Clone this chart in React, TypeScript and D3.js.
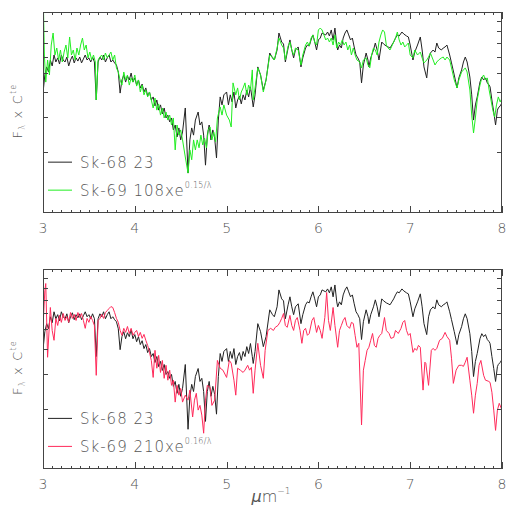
import React from "react";
import * as d3 from "d3";

// ---- data ----
const blackWave = [3.00,3.02,3.04,3.06,3.08,3.10,3.12,3.14,3.16,3.18,3.20,3.22,3.24,3.26,3.28,3.30,3.32,3.34,3.36,3.38,3.40,3.42,3.44,3.46,3.48,3.50,3.52,3.54,3.56,3.58,3.60,3.62,3.64,3.66,3.68,3.70,3.72,3.74,3.76,3.78,3.80,3.82,3.84,3.86,3.88,3.90,3.92,3.94,3.96,3.98,4.00,4.02,4.04,4.06,4.08,4.10,4.12,4.14,4.16,4.18,4.20,4.22,4.24,4.26,4.28,4.30,4.32,4.34,4.36,4.38,4.40,4.42,4.44,4.46,4.48,4.50,4.52,4.55,4.58,4.60,4.62,4.64,4.66,4.69,4.71,4.73,4.75,4.77,4.79,4.81,4.83,4.85,4.87,4.89,4.91,4.93,4.95,4.97,5.00,5.02,5.04,5.06,5.08,5.10,5.12,5.14,5.16,5.18,5.20,5.22,5.24,5.26,5.28,5.29,5.31,5.34,5.37,5.40,5.43,5.47,5.50,5.52,5.55,5.57,5.60,5.62,5.64,5.67,5.69,5.71,5.73,5.75,5.78,5.81,5.83,5.86,5.88,5.90,5.92,5.94,5.96,5.98,6.00,6.02,6.04,6.06,6.08,6.10,6.12,6.14,6.16,6.18,6.20,6.21,6.23,6.25,6.27,6.29,6.31,6.33,6.35,6.37,6.39,6.41,6.43,6.45,6.47,6.49,6.52,6.54,6.55,6.57,6.60,6.62,6.64,6.66,6.68,6.69,6.71,6.74,6.76,6.78,6.80,6.82,6.84,6.86,6.88,6.91,6.93,6.96,6.98,7.00,7.03,7.05,7.08,7.11,7.13,7.15,7.18,7.20,7.22,7.25,7.27,7.29,7.31,7.34,7.36,7.38,7.40,7.43,7.45,7.48,7.51,7.53,7.56,7.58,7.60,7.62,7.65,7.67,7.69,7.71,7.73,7.76,7.78,7.80,7.82,7.84,7.86,7.87,7.89,7.91,7.93,7.95,7.96,7.98,8.00];
const blackFlux = [3.95,4.86,5.33,5.03,5.77,5.39,6.11,5.64,5.91,5.51,6.11,5.77,5.64,5.97,5.39,5.77,6.04,5.58,5.91,5.70,5.97,5.58,5.84,6.11,5.77,5.91,5.64,5.97,5.64,3.65,5.64,5.97,5.77,6.11,5.64,5.91,6.11,5.64,5.77,5.58,5.45,5.03,3.95,4.59,4.86,4.48,4.80,4.59,4.97,4.48,4.70,4.33,4.59,4.19,4.38,4.00,4.19,3.82,4.00,3.65,3.78,3.41,3.65,3.25,3.45,3.11,3.33,2.97,3.07,2.84,2.97,2.59,2.74,2.39,2.65,2.31,2.53,3.33,1.58,2.31,2.65,2.44,2.90,3.18,2.74,2.84,2.44,1.73,2.44,2.74,2.31,2.59,2.36,1.88,2.90,3.78,3.45,3.87,4.00,3.45,3.87,3.57,4.00,3.33,3.65,3.82,3.49,3.87,3.65,4.09,3.78,4.24,3.65,3.37,3.87,5.33,4.86,4.09,4.59,6.25,5.91,5.77,6.47,7.86,7.09,6.93,5.64,6.62,7.26,6.47,5.91,6.47,6.70,5.33,5.91,6.62,6.85,6.77,7.26,7.69,7.09,6.47,7.26,7.42,7.86,7.77,7.69,7.95,7.60,8.14,7.26,8.32,6.85,6.47,6.85,6.62,7.42,7.86,8.14,7.69,7.26,7.42,6.70,6.11,5.91,5.64,4.44,5.45,6.25,5.77,5.33,5.91,6.47,7.01,6.47,5.77,6.62,7.09,6.93,6.77,6.70,6.62,6.85,7.09,7.42,7.69,7.60,7.95,7.77,7.60,7.51,6.85,5.77,6.32,6.85,7.51,6.47,5.33,4.70,5.77,6.25,6.47,6.32,7.01,6.62,6.47,6.62,6.70,6.85,6.11,5.58,4.86,4.19,4.70,5.15,5.64,5.97,5.64,4.75,3.87,2.90,3.45,3.78,4.48,4.75,4.59,4.70,4.44,4.33,4.24,3.65,3.18,2.74,3.25,3.33,3.41,3.53];

const greenWave = [3.00,3.015,3.03,3.05,3.07,3.09,3.11,3.13,3.15,3.17,3.19,3.21,3.23,3.25,3.27,3.29,3.31,3.33,3.35,3.37,3.39,3.41,3.43,3.45,3.47,3.49,3.51,3.53,3.55,3.57,3.58,3.60,3.62,3.64,3.66,3.68,3.70,3.72,3.74,3.76,3.78,3.80,3.82,3.84,3.86,3.88,3.90,3.92,3.94,3.96,3.98,4.00,4.02,4.04,4.06,4.08,4.10,4.12,4.14,4.16,4.18,4.20,4.22,4.24,4.26,4.28,4.30,4.32,4.34,4.36,4.38,4.40,4.42,4.44,4.46,4.48,4.50,4.52,4.55,4.58,4.60,4.62,4.64,4.66,4.68,4.70,4.72,4.74,4.76,4.78,4.80,4.82,4.84,4.86,4.88,4.90,4.93,4.95,4.97,5.00,5.03,5.05,5.07,5.10,5.12,5.14,5.16,5.18,5.20,5.22,5.24,5.26,5.28,5.29,5.31,5.34,5.37,5.40,5.43,5.47,5.50,5.52,5.55,5.57,5.60,5.62,5.64,5.67,5.69,5.71,5.73,5.75,5.78,5.81,5.83,5.86,5.88,5.90,5.92,5.94,5.96,5.98,6.00,6.02,6.04,6.06,6.08,6.10,6.12,6.14,6.16,6.18,6.20,6.22,6.24,6.26,6.28,6.30,6.32,6.34,6.36,6.38,6.40,6.42,6.45,6.47,6.49,6.52,6.54,6.56,6.58,6.60,6.62,6.64,6.66,6.68,6.70,6.72,6.74,6.76,6.78,6.80,6.82,6.84,6.86,6.88,6.90,6.92,6.94,6.96,6.98,7.00,7.03,7.05,7.08,7.11,7.13,7.15,7.18,7.20,7.22,7.25,7.27,7.29,7.31,7.34,7.36,7.38,7.40,7.43,7.45,7.48,7.51,7.53,7.56,7.58,7.60,7.62,7.65,7.67,7.69,7.71,7.73,7.76,7.78,7.80,7.82,7.84,7.86,7.88,7.90,7.92,7.94,7.96,7.98,8.00];
const greenFlux = [14,6.11,4.48,5.77,4.86,6.85,7.86,6.11,6.62,5.77,6.47,5.64,6.32,6.85,5.91,7.51,6.11,6.47,5.77,6.62,6.11,6.85,7.42,6.47,6.85,5.91,6.32,5.77,6.11,5.64,3.65,5.77,5.97,6.11,5.77,6.25,5.91,6.11,6.32,5.77,6.11,5.27,5.03,4.59,4.33,5.03,4.59,4.86,4.33,4.70,4.48,4.86,4.28,4.59,4.00,4.33,3.87,4.09,3.78,4.00,3.65,3.33,3.73,3.25,3.49,3.07,3.33,2.97,3.18,2.90,3.07,2.74,2.97,2.06,2.74,2.44,2.59,2.31,1.90,1.58,2.06,1.84,2.31,2.06,2.31,2.11,2.44,2.18,2.36,2.11,2.59,2.68,2.31,2.53,2.26,2.97,3.37,3.07,3.45,3.07,2.90,2.68,4.44,3.87,4.19,3.65,4.00,4.19,4.44,3.87,4.33,4.09,5.15,3.65,4.19,5.27,4.86,4.00,4.59,6.11,5.97,5.77,6.62,7.42,6.85,6.62,5.77,6.77,7.09,6.47,6.11,6.62,6.47,5.45,6.11,6.85,7.09,6.77,7.42,7.69,7.09,6.85,8.14,8.32,8.14,7.69,7.26,7.42,7.09,7.42,6.85,7.69,6.62,7.09,6.85,7.26,6.85,7.09,6.47,6.85,6.11,6.62,6.11,5.77,5.64,5.27,5.77,5.91,5.45,5.27,6.11,6.62,6.47,6.11,7.09,7.69,8.14,7.95,6.85,6.62,6.47,6.77,7.09,7.42,7.95,7.26,6.85,7.09,6.70,6.85,7.01,6.11,5.91,6.47,6.11,6.32,5.91,5.58,5.77,5.97,6.25,5.77,5.45,5.64,5.77,5.91,5.97,5.77,5.97,5.77,5.27,4.59,4.19,4.59,5.03,5.15,5.27,5.03,4.09,3.07,2.50,2.97,3.65,4.33,4.70,4.86,4.59,4.70,4.09,3.65,3.25,3.00,3.45,3.78,3.57,3.73];

const redWave = [3.00,3.02,3.03,3.05,3.08,3.10,3.12,3.14,3.16,3.18,3.20,3.22,3.24,3.26,3.28,3.30,3.32,3.34,3.36,3.38,3.40,3.42,3.44,3.46,3.48,3.50,3.52,3.54,3.56,3.58,3.60,3.62,3.64,3.66,3.68,3.70,3.72,3.74,3.76,3.78,3.80,3.82,3.84,3.86,3.88,3.90,3.92,3.94,3.96,3.98,4.00,4.02,4.04,4.06,4.08,4.10,4.12,4.14,4.16,4.18,4.20,4.22,4.24,4.26,4.28,4.30,4.32,4.34,4.36,4.38,4.40,4.42,4.44,4.46,4.48,4.50,4.52,4.55,4.58,4.60,4.63,4.65,4.67,4.69,4.71,4.73,4.75,4.77,4.79,4.82,4.84,4.87,4.90,4.93,4.96,5.00,5.03,5.05,5.08,5.10,5.12,5.15,5.18,5.20,5.23,5.25,5.27,5.29,5.31,5.34,5.37,5.40,5.42,5.45,5.48,5.51,5.53,5.56,5.58,5.60,5.62,5.64,5.66,5.69,5.71,5.73,5.75,5.77,5.80,5.82,5.84,5.86,5.88,5.90,5.93,5.95,5.98,6.00,6.02,6.04,6.07,6.09,6.11,6.13,6.16,6.18,6.21,6.23,6.25,6.27,6.29,6.31,6.34,6.36,6.38,6.40,6.42,6.44,6.47,6.49,6.51,6.53,6.55,6.57,6.59,6.61,6.63,6.65,6.67,6.69,6.72,6.74,6.77,6.79,6.82,6.84,6.87,6.90,6.92,6.94,6.96,6.98,7.00,7.03,7.05,7.07,7.09,7.11,7.14,7.16,7.17,7.20,7.23,7.25,7.27,7.29,7.32,7.35,7.38,7.40,7.43,7.45,7.47,7.50,7.53,7.56,7.58,7.60,7.62,7.65,7.67,7.69,7.71,7.73,7.75,7.77,7.80,7.82,7.85,7.87,7.89,7.91,7.93,7.95,7.97,8.00];
const redFlux = [5.11,7.80,8.46,3.62,6.42,4.93,4.40,5.66,5.22,5.86,5.41,5.99,5.53,5.79,5.41,6.06,5.66,5.93,5.53,6.06,5.72,5.99,5.53,5.05,5.66,5.41,5.79,5.53,5.22,2.94,5.53,5.66,5.93,5.66,6.06,6.20,6.35,6.49,6.42,6.06,5.66,5.41,4.93,4.66,5.05,4.82,5.16,4.76,5.05,4.66,4.82,4.93,4.60,4.82,4.50,4.71,4.40,4.15,3.83,3.49,2.87,3.92,3.19,3.70,3.04,3.49,2.84,3.30,2.78,3.12,2.62,2.78,2.16,2.62,2.34,2.53,2.16,2.34,2.21,2.48,1.82,2.21,2.39,1.97,2.08,1.86,1.51,2.21,2.62,2.56,2.08,2.21,3.49,3.19,3.12,2.87,3.49,3.38,2.78,2.34,3.19,3.12,3.04,3.12,3.30,3.12,3.22,2.39,3.12,4.25,3.30,2.84,3.92,4.93,5.05,4.93,5.11,5.22,5.41,5.66,5.99,5.22,5.11,5.86,5.22,4.93,5.53,5.72,4.93,4.25,4.93,5.05,4.66,4.76,5.53,5.72,4.82,5.22,4.93,4.50,5.72,7.63,5.53,4.93,6.42,5.22,4.06,4.93,5.22,5.53,5.72,5.22,5.05,5.41,5.34,4.66,4.06,4.25,1.66,3.12,3.49,3.92,4.06,4.40,4.76,4.15,4.06,4.50,4.66,4.76,5.72,4.93,4.76,4.50,4.55,4.93,4.76,5.05,5.41,5.53,4.93,4.66,4.76,3.83,4.01,3.92,4.15,4.06,2.48,3.42,3.38,2.62,3.92,4.01,3.92,4.01,4.40,4.50,4.82,4.60,4.40,3.58,2.68,3.12,3.30,3.30,3.26,3.42,3.62,2.78,2.34,1.90,2.34,2.68,3.30,3.49,2.94,2.78,2.75,2.71,2.42,1.97,1.56,1.97,2.13,1.97];

const xMajorTicks = [3, 4, 5, 6, 7, 8];
const yTicks = [2, 3, 4, 5, 6, 7, 8, 9];
const topLegend = ["Sk-68 23", "Sk-69 108xe", "0.15/λ"];
const bottomLegend = ["Sk-68 23", "Sk-69 210xe", "0.16/λ"];

const W = 511, H = 511;
const X0 = 43, X1 = 502;
const AXIS = "#444";
const TEXT = "#555";
const FONT = "'DejaVu Sans', 'Liberation Sans', sans-serif";

function zip(w: number[], f: number[]) {
  return w.map((x, i) => [x, f[i]] as [number, number]);
}

function Panel({ top, bottom, other, otherColor, legend, id, showXLabel }: any) {
  const x = d3.scaleLinear().domain([3, 8]).range([X0, X1]);
  const y = d3.scaleLog().domain([1, 10]).range([bottom, top]);
  const line = d3.line<[number, number]>().x((d) => x(d[0])).y((d) => y(d[1]));
  const minor = d3.range(30, 81).map((v) => v / 10);
  const ly1 = y(10) + (bottom - top) * 0.747;
  const ly2 = ly1 + 28;
  return (
    <g>
      <defs>
        <clipPath id={id}>
          <rect x={X0} y={top} width={X1 - X0} height={bottom - top} />
        </clipPath>
      </defs>
      <g clipPath={`url(#${id})`} fill="none" strokeWidth={1}>
        <path d={line(zip(blackWave, blackFlux)) || ""} stroke="#222" />
        <path d={line(other) || ""} stroke={otherColor} />
      </g>
      <rect x={X0 + 0.5} y={top + 0.5} width={X1 - X0 - 1} height={bottom - top - 1} fill="none" stroke={AXIS} />
      {minor.map((v) => {
        const major = Math.abs(v - Math.round(v)) < 1e-6;
        const len = major ? 7 : 3;
        const px = Math.round(x(v)) + 0.5;
        return (
          <g key={v} stroke={AXIS}>
            <line x1={px} x2={px} y1={bottom} y2={bottom - len} />
            <line x1={px} x2={px} y1={top} y2={top + len} />
          </g>
        );
      })}
      {yTicks.map((v) => {
        const py = Math.round(y(v)) + 0.5;
        return (
          <g key={v} stroke={AXIS}>
            <line x1={X0} x2={X0 + 5} y1={py} y2={py} />
            <line x1={X1} x2={X1 - 5} y1={py} y2={py} />
          </g>
        );
      })}
      {xMajorTicks.map((v) => (
        <text key={v} x={x(v)} y={bottom + 20} textAnchor="middle" fontSize={14} fill={TEXT} fontFamily={FONT} fontWeight={300}>
          {v}
        </text>
      ))}
      <text transform={`translate(22,${(top + bottom) / 2 + 26}) rotate(-90)`} fontSize={13} fill={TEXT} fontFamily={FONT} fontWeight={300} letterSpacing={1.2}>
        F<tspan fontSize={8} dy={3}>λ</tspan>
        <tspan dy={-3}>  x  C</tspan>
        <tspan fontSize={8} dy={-6}>te</tspan>
      </text>
      <line x1={48} x2={72} y1={ly1} y2={ly1} stroke="#222" />
      <text x={80} y={ly1 + 6} fontSize={15} fill={TEXT} fontFamily={FONT} fontWeight={300} letterSpacing={1}>
        {legend[0]}
      </text>
      <line x1={48} x2={72} y1={ly2} y2={ly2} stroke={otherColor} />
      <text x={80} y={ly2 + 6} fontSize={15} fill={TEXT} fontFamily={FONT} fontWeight={300} letterSpacing={1}>
        {legend[1]}
        <tspan fontSize={8} dy={-8} letterSpacing={0.3}>{legend[2]}</tspan>
      </text>
      {showXLabel && (
        <text x={271} y={502} textAnchor="middle" fontSize={16} fill={TEXT} fontFamily={FONT} fontWeight={300}>
          <tspan fontStyle="italic">μ</tspan>m<tspan fontSize={9} dy={-8}>−1</tspan>
        </text>
      )}
    </g>
  );
}

export default function App() {
  return (
    <svg width={W} height={H} style={{ position: "absolute", left: 0, top: 0, background: "#fff" }}>
      <rect width={W} height={H} fill="#fff" />
      <Panel top={12} bottom={213} other={zip(greenWave, greenFlux)} otherColor="#22ee22" legend={topLegend} id="clipTop" />
      <Panel top={269} bottom={469} other={zip(redWave, redFlux)} otherColor="#ff2a5a" legend={bottomLegend} id="clipBot" showXLabel />
    </svg>
  );
}
